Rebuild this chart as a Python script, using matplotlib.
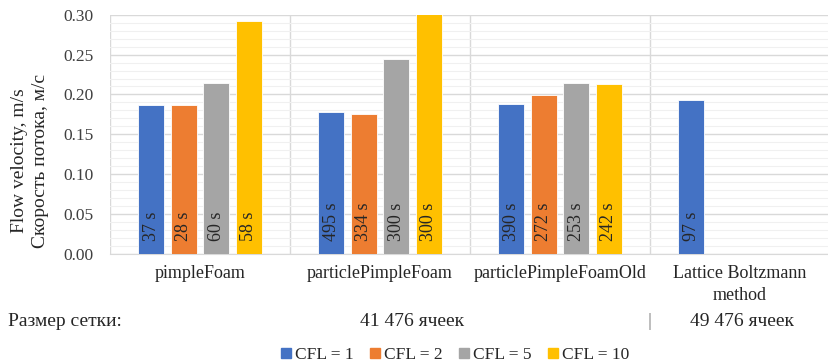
import matplotlib

matplotlib.use("Agg")
import matplotlib.pyplot as plt
import numpy as np
from matplotlib.lines import Line2D

solvers = ["pimpleFoam", "particlePimpleFoam", "particlePimpleFoamOld", "Lattice Boltzmann\nmethod"]
cfl_labels = ["CFL = 1", "CFL = 2", "CFL = 5", "CFL = 10"]

# flow velocity, m/s (None -> not computed)
vel_cfl1 = [0.187, 0.178, 0.188, 0.193]
vel_cfl2 = [0.187, 0.175, 0.199, None]
vel_cfl5 = [0.214, 0.244, 0.215, None]
vel_cfl10 = [0.292, 0.310, 0.213, None]

# run time shown inside each bar
time_cfl1 = ["37 s", "495 s", "390 s", "97 s"]
time_cfl2 = ["28 s", "334 s", "272 s", None]
time_cfl5 = ["60 s", "300 s", "253 s", None]
time_cfl10 = ["58 s", "300 s", "242 s", None]

colors = ["#4472C4", "#ED7D31", "#A5A5A5", "#FFC000"]
FONT = "Liberation Serif"
TXT = "#262626"

plt.rcParams["font.family"] = [FONT, "DejaVu Serif"]

W, H = 829, 363
fig = plt.figure(figsize=(W / 100, H / 100), dpi=100)
ax = fig.add_axes([110 / W, 1 - 254 / H, 720 / W, (254 - 14.7) / H])

series = [vel_cfl1, vel_cfl2, vel_cfl5, vel_cfl10]
times = [time_cfl1, time_cfl2, time_cfl5, time_cfl10]
x = np.arange(len(solvers))
step, width = 0.181, 0.145

for i, (vals, labs) in enumerate(zip(series, times)):
    for j, v in enumerate(vals):
        if v is None:
            continue
        xp = x[j] + (i - 1.5) * step
        ax.bar(xp, v, width=width, color=colors[i], edgecolor="white", linewidth=0.6, zorder=3)
        ax.text(xp, 0.016, labs[j], rotation=90, ha="center", va="bottom",
                fontsize=13, color=TXT, zorder=4)

ax.set_xlim(-0.5, 3.5)
ax.set_ylim(0, 0.30)
ax.set_yticks(np.arange(0, 0.301, 0.05))
ax.set_yticklabels([f"{t:.2f}" for t in np.arange(0, 0.301, 0.05)])
ax.set_yticks(np.arange(0, 0.301, 0.01), minor=True)
ax.set_xticks(x)
ax.set_xticklabels(solvers, fontsize=13, color=TXT, linespacing=1.35)
ax.set_xticks(np.arange(-0.5, 3.6, 1.0), minor=True)

ax.tick_params(axis="y", which="both", length=0, pad=12, labelsize=12.5, labelcolor="#404040")
ax.tick_params(axis="x", which="both", length=0, pad=8)
ax.grid(axis="y", which="major", color="#d9d9d9", linewidth=1.0, zorder=0)
ax.grid(axis="y", which="minor", color="#f0f0f0", linewidth=0.8, zorder=0)
ax.grid(axis="x", which="minor", color="#d9d9d9", linewidth=1.0, zorder=0)
for s in ["top", "right", "left"]:
    ax.spines[s].set_visible(False)
ax.spines["bottom"].set_color("#d9d9d9")

fig.text(30 / W, 1 - 161 / H, "Flow velocity, m/s\nСкорость потока, м/с", rotation=90,
         ha="center", va="center", multialignment="center", fontsize=14, color=TXT,
         linespacing=1.3)

# mesh size row
row_y = 1 - 322 / H
fig.text(8 / W, row_y, "Размер сетки:", ha="left", va="center", fontsize=14, color=TXT)
fig.text(412 / W, row_y, "41 476 ячеек", ha="center", va="center", fontsize=14, color=TXT)
fig.text(650 / W, row_y, "|", ha="center", va="center", fontsize=14, color="#808080")
fig.text(742 / W, row_y, "49 476 ячеек", ha="center", va="center", fontsize=14, color=TXT)

handles = [Line2D([], [], marker="s", linestyle="none", markersize=6.5, color=c) for c in colors]
fig.legend(handles, cfl_labels, loc="center", bbox_to_anchor=(455 / W, 1 - 355 / H), ncol=4,
           frameon=False, fontsize=12.5, handlelength=0.6, handletextpad=0.25,
           columnspacing=0.9, labelcolor=TXT, borderpad=0)

fig.savefig("out.png", dpi=100)
